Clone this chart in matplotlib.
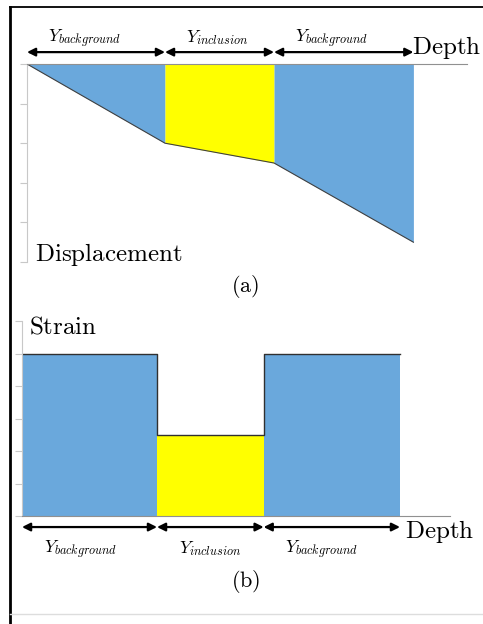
import matplotlib.pyplot as plt
from matplotlib.lines import Line2D

plt.rcParams['mathtext.fontset'] = 'cm'
plt.rcParams['font.family'] = 'serif'
plt.rcParams['font.serif'] = ['DejaVu Serif']

# depth boundaries: background | inclusion | background
depth = [0, 1, 1.79, 2.8]
# (a) displacement at the boundaries (grows downward)
displacement = [0, 2.0, 2.5, 4.5]
# (b) strain in each layer
strain = [5, 2.5, 5]
layer_colors = ['#6aa8dc', '#ffff00', '#6aa8dc']
labels = [r'$Y_{background}$', r'$Y_{inclusion}$', r'$Y_{background}$']

W, H = 483, 624
fig = plt.figure(figsize=(W / 100, H / 100), dpi=100)

def px_axes(x0, y0, x1, y1):
    return fig.add_axes([x0 / W, 1 - y1 / H, (x1 - x0) / W, (y1 - y0) / H])

# frame
fig.add_artist(Line2D([10 / W, 10 / W], [0, 1 - 7 / H], color='black', lw=2))
fig.add_artist(Line2D([10 / W, 1], [1 - 7 / H, 1 - 7 / H], color='black', lw=1.3))
fig.add_artist(Line2D([10 / W, 1], [1 - 614 / H, 1 - 614 / H], color='#dddddd', lw=1))

arrow = dict(arrowstyle='<|-|>', color='black', lw=1.6, mutation_scale=12,
             shrinkA=0, shrinkB=0)

# ---- (a) displacement ----
ax = px_axes(27, 64, 467, 262)
for i in range(3):
    ax.fill_between(depth[i:i + 2], [0, 0], displacement[i:i + 2],
                    color=layer_colors[i], lw=0)
ax.plot(depth, displacement, color='#404040', lw=0.8)
ax.set_xlim(0, 440 / 138)
ax.set_ylim(5, 0)
ax.set_yticks(range(6))
ax.set_yticklabels([])
ax.set_xticks([])
for s in ['right', 'bottom']:
    ax.spines[s].set_visible(False)
ax.spines['top'].set_color('#909090')
ax.spines['left'].set_color('#c8c8c8')
ax.tick_params(axis='y', length=5, color='#c8c8c8')
for i in range(3):
    ax.annotate('', xy=(depth[i], -0.3), xytext=(depth[i + 1], -0.3),
                arrowprops=arrow, annotation_clip=False)
    ax.text(depth[i] + 0.15, -0.56, labels[i], ha='left', va='baseline',
            fontsize=12.5, clip_on=False)
ax.text(depth[-1] - 0.01, -0.42, r'$\mathrm{Depth}$', ha='left', va='center',
        fontsize=18, clip_on=False)
ax.text(0.06, 4.8, r'$\mathrm{Displacement}$', ha='left', va='center', fontsize=18)
ax.text(1.58, 5.62, r'$\mathrm{(a)}$', ha='center', va='center', fontsize=16,
        clip_on=False)

# ---- (b) strain ----
bx = px_axes(22, 321, 450, 516)
for i in range(3):
    bx.fill_between(depth[i:i + 2], [0, 0], [strain[i], strain[i]],
                    color=layer_colors[i], lw=0)
step_x = [depth[0], depth[1], depth[1], depth[2], depth[2], depth[3]]
step_y = [strain[0], strain[0], strain[1], strain[1], strain[2], strain[2]]
bx.plot(step_x, step_y, color='#303030', lw=1)
bx.set_xlim(0, 428 / 135)
bx.set_ylim(0, 6)
bx.set_yticks(range(7))
bx.set_yticklabels([])
bx.set_xticks([])
for s in ['right', 'top']:
    bx.spines[s].set_visible(False)
bx.spines['bottom'].set_color('#909090')
bx.spines['left'].set_color('#c8c8c8')
bx.tick_params(axis='y', length=5, color='#c8c8c8')
for i in range(3):
    bx.annotate('', xy=(depth[i], -0.34), xytext=(depth[i + 1], -0.34),
                arrowprops=arrow, annotation_clip=False)
    bx.text(depth[i] + 0.16, -1.14, labels[i], ha='left', va='baseline',
            fontsize=12.5, clip_on=False)
bx.text(depth[-1] + 0.04, -0.47, r'$\mathrm{Depth}$', ha='left', va='center',
        fontsize=18, clip_on=False)
bx.text(0.05, 5.8, r'$\mathrm{Strain}$', ha='left', va='center', fontsize=18,
        clip_on=False)
bx.text(1.66, -2.02, r'$\mathrm{(b)}$', ha='center', va='center', fontsize=16,
        clip_on=False)

fig.savefig('out.png', dpi=100)
